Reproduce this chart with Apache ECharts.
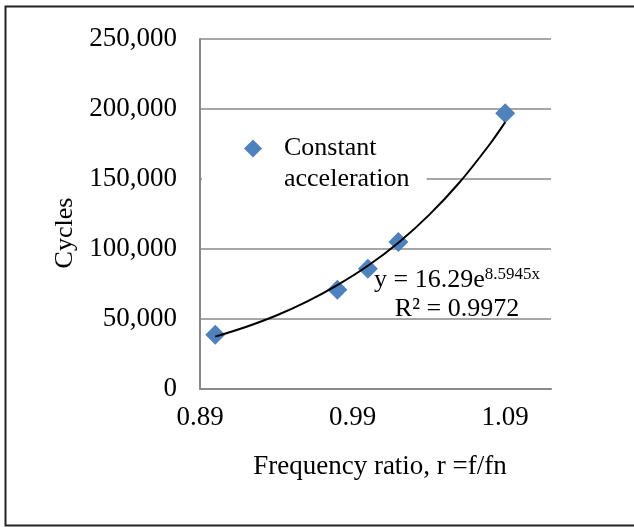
<!DOCTYPE html>
<html>
<head>
<meta charset="utf-8">
<script src="https://cdn.jsdelivr.net/npm/echarts@6/dist/echarts.min.js"></script>
<style>
  html, body { margin: 0; padding: 0; background: #fff; }
  #chart { width: 634px; height: 527px; }
</style>
</head>
<body>
<div id="chart"></div>
<script>
// measured points
const ratioX = [0.90, 0.98, 1.00, 1.02, 1.09]
const cycles = [38800, 70900, 85900, 105000, 197000]

// exponential trendline
const trendX = [0.90, 0.92, 0.94, 0.96, 0.98, 1.00, 1.02, 1.04, 1.06, 1.08, 1.09]
const trendY = [37400, 44300, 52500, 62400, 74200, 88000, 104500, 124200, 147500, 175000, 190600]

const xTickLabels = ['0.89', '0.99', '1.09']
const seriesName = 'Constant\nacceleration'
const trendText = ['y = 16.29e', '8.5945x', 'R² = 0.9972']

const font = 'Liberation Serif, Times New Roman, serif'

const chart = echarts.init(document.getElementById('chart'))

const option = {
  backgroundColor: '#fff',
  animation: false,
  textStyle: { fontFamily: font },
  grid: {
    left: 200,
    right: 83,
    top: 39,
    bottom: 138
  },
  legend: {
    left: 202,
    top: 120,
    padding: [13, 17, 8, 42],
    backgroundColor: '#fff',
    itemWidth: 52,
    itemHeight: 62,
    data: [{
      name: seriesName,
      // diamond kept in the upper part so it lines up with the first text line
      icon: 'path://M1,0.722L2,1.722L1,2.722L0,1.722Z M0,0L0,0 M0,6.889L0,6.889'
    }],
    textStyle: {
      fontFamily: font,
      fontSize: 26,
      lineHeight: 31,
      color: '#000'
    }
  },
  xAxis: {
    type: 'value',
    min: 0.89,
    max: 1.12,
    interval: 0.01,
    name: 'Frequency ratio, r =f/fn',
    nameLocation: 'middle',
    nameGap: 64,
    nameTextStyle: { fontFamily: font, fontSize: 27, color: '#000', padding: [0, 0, 0, 9] },
    axisLine: { show: true, lineStyle: { color: '#888', width: 2 } },
    axisTick: { show: false },
    splitLine: { show: false },
    axisLabel: {
      margin: 15,
      fontFamily: font,
      fontSize: 27,
      color: '#000',
      formatter: (v) => {
        const s = v.toFixed(2)
        return xTickLabels.includes(s) ? s : ''
      }
    }
  },
  yAxis: {
    type: 'value',
    min: 0,
    max: 250000,
    interval: 50000,
    name: 'Cycles',
    nameLocation: 'middle',
    nameGap: 118,
    nameTextStyle: { fontFamily: font, fontSize: 26, color: '#000', padding: [0, 38, 0, 0] },
    axisLine: { show: true, lineStyle: { color: '#888', width: 2 } },
    axisTick: { show: false },
    splitLine: { show: true, lineStyle: { color: '#a6a6a6', width: 2 } },
    axisLabel: {
      margin: 23,
      fontFamily: font,
      fontSize: 27,
      color: '#000'
    }
  },
  graphic: [
    {
      type: 'rect',
      silent: true,
      shape: { x: 5.5, y: 6.5, width: 700, height: 519 },
      style: { fill: 'none', stroke: '#222', lineWidth: 2 }
    },
    {
      type: 'text',
      x: 457,
      y: 295,
      z: 10,
      style: {
        text: '{n|' + trendText[0] + '}{s|' + trendText[1] + '}\n{n|' + trendText[2] + '}',
        align: 'center',
        verticalAlign: 'middle',
        fill: '#000',
        font: '26px ' + font,
        rich: {
          n: { fontFamily: font, fontSize: 26, lineHeight: 29, fill: '#000' },
          s: { fontFamily: font, fontSize: 17, lineHeight: 29, verticalAlign: 'top', fill: '#000' }
        }
      }
    }
  ],
  series: [
    {
      name: seriesName,
      type: 'scatter',
      symbol: 'diamond',
      symbolSize: 20,
      z: 2,
      itemStyle: { color: '#4f81bd', opacity: 1 },
      data: ratioX.map((x, i) => [x, cycles[i]])
    },
    {
      name: 'trend',
      type: 'line',
      smooth: 0.3,
      showSymbol: false,
      z: 3,
      lineStyle: { color: '#000', width: 2 },
      data: trendX.map((x, i) => [x, trendY[i]])
    }
  ]
}

chart.setOption(option)
</script>
</body>
</html>
